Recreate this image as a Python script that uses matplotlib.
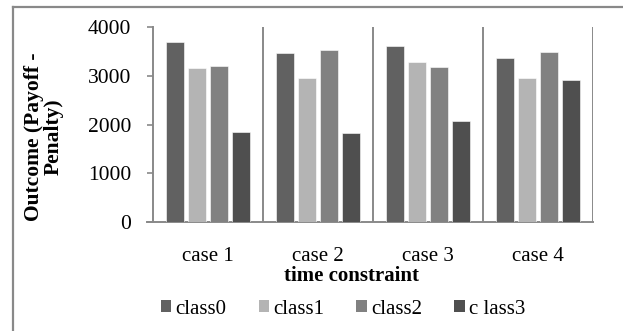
import numpy as np
import matplotlib
matplotlib.use("Agg")
import matplotlib.pyplot as plt
from matplotlib.lines import Line2D
from matplotlib.patches import Patch

# outcome (payoff - penalty) per class for each time-constraint case
cases = ["case 1", "case 2", "case 3", "case 4"]
class_labels = ["class0", "class1", "class2", "c lass3"]
class0 = [3700, 3460, 3610, 3360]
class1 = [3150, 2960, 3290, 2950]
class2 = [3200, 3520, 3180, 3480]
class3 = [1840, 1820, 2080, 2910]
yticks = [0, 1000, 2000, 3000, 4000]

colors = ["#616161", "#b4b4b4", "#818181", "#4f4f4f"]
axis_gray = "#898989"

plt.rcParams["font.family"] = ["Liberation Serif", "DejaVu Serif"]

fig = plt.figure(figsize=(6.23, 3.31), dpi=100)
ax = fig.add_axes([153 / 623, 1 - 222 / 331, 440 / 623, 195 / 331])

x = np.arange(len(cases))
pitch = 0.2
width = 0.165
for i, vals in enumerate([class0, class1, class2, class3]):
    ax.bar(x + (i - 1.5) * pitch, vals, width, color=colors[i],
           edgecolor="white", linewidth=0.4, zorder=3)

ax.set_xlim(-0.5, len(cases) - 0.5)
ax.set_ylim(0, 4000)
ax.set_yticks(yticks)
ax.set_xticks(x)
ax.set_xticklabels(cases)

# category separators
for b in np.arange(0.5, len(cases), 1.0):
    ax.axvline(b, color=axis_gray, lw=1.4, zorder=2)

for s in ["top", "right"]:
    ax.spines[s].set_visible(False)
for s in ["left", "bottom"]:
    ax.spines[s].set_color(axis_gray)
    ax.spines[s].set_linewidth(1.4)
ax.spines["bottom"].set_bounds(-0.5 - 0.055, len(cases) - 0.5)

ax.tick_params(axis="y", direction="out", length=4.5, width=1.2,
               color=axis_gray, labelsize=15.5, pad=11)
ax.tick_params(axis="x", length=0, labelsize=15, pad=18)

fig.text(44 / 623, 1 - 137 / 331, "Outcome (Payoff -\nPenalty)",
         rotation=90, ha="center", va="center", multialignment="center",
         fontsize=15.5, fontweight="bold", linespacing=1.0)
fig.text(351 / 623, 1 - 276 / 331, "time constraint", ha="center",
         va="center", fontsize=15, fontweight="bold")

handles = [Patch(facecolor=c, edgecolor="none") for c in colors]
fig.legend(handles, class_labels, loc="center", ncol=4, frameon=False,
           bbox_to_anchor=(343 / 623, 1 - 309 / 331), fontsize=15,
           handlelength=0.5, handleheight=0.5, handletextpad=0.2,
           columnspacing=1.55, borderpad=0)

# outer chart frame (top and left edges)
fig.add_artist(Line2D([13 / 623, 1.0], [1 - 6.5 / 331] * 2,
                      transform=fig.transFigure, color=axis_gray, lw=1.6))
fig.add_artist(Line2D([13 / 623] * 2, [0.0, 1 - 6.5 / 331],
                      transform=fig.transFigure, color=axis_gray, lw=1.6))

fig.savefig("out.png", dpi=100)
